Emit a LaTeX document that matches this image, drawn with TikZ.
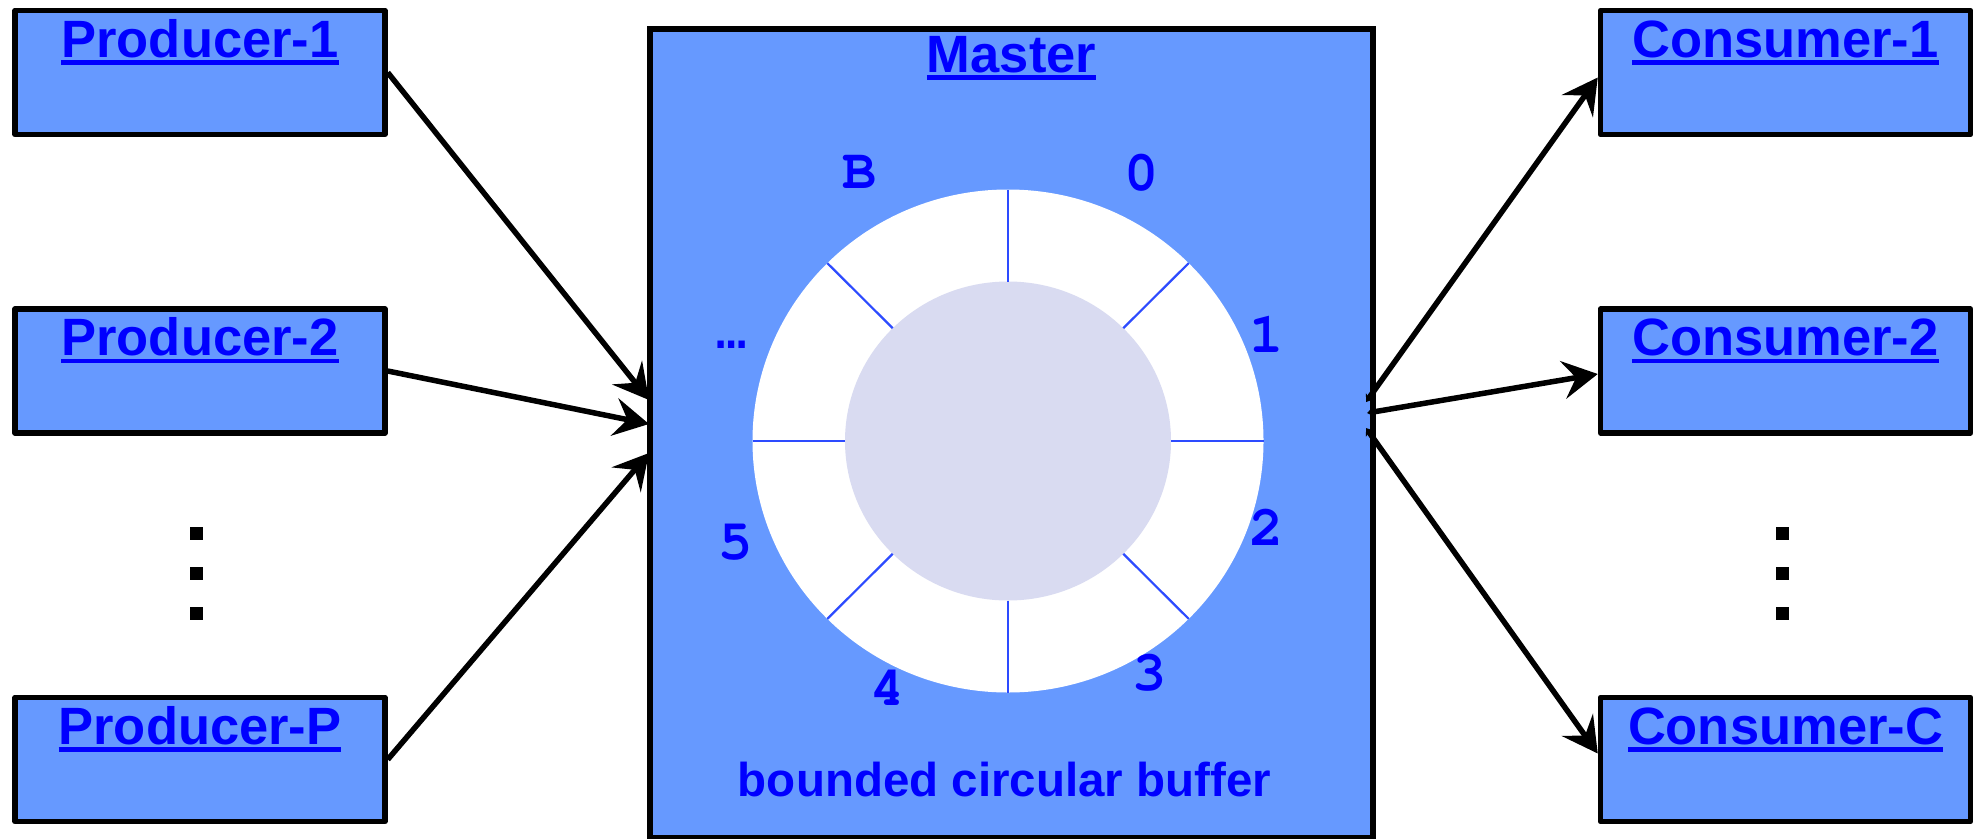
\documentclass[tikz,border=0pt]{standalone}
\usepackage{fontspec}
\usepackage[T1,TU]{fontenc}
\setmainfont{Liberation Sans}
\newfontfamily\slotfont{Liberation Mono}
\usetikzlibrary{arrows.meta,calc}

\definecolor{boxfill}{RGB}{102,153,255}
\definecolor{inkblue}{RGB}{0,0,255}
\definecolor{hubfill}{RGB}{217,219,241}
\definecolor{spokeblue}{RGB}{45,75,255}

% underline drawn as a thick rule under the text
\newcommand\ulined[1]{\setbox0=\hbox{#1}\rlap{\rule[-7.5pt]{\wd0}{4.5pt}}\box0}
% slot numbers in a bold Courier
\newcommand\courierbold{\fontencoding{T1}\fontfamily{pcr}\fontseries{b}\fontshape{n}\fontsize{57pt}{62pt}\selectfont}

\begin{document}
\begin{tikzpicture}[x=1pt,y=-1pt,
  unit/.style={draw=black, line width=5.5pt, line join=round, fill=boxfill,
    minimum width=370pt, minimum height=124pt, inner sep=0pt},
  master/.style={draw=black, line width=5.5pt, fill=boxfill,
    minimum width=723pt, minimum height=809pt, inner sep=0pt},
  title/.style={inner sep=0pt, text=inkblue,
    font=\fontsize{52.5pt}{60pt}\selectfont\bfseries},
  caption/.style={inner sep=0pt, text=inkblue,
    font=\fontsize{47.5pt}{54pt}\selectfont\bfseries},
  slot/.style={inner sep=0pt, text=inkblue, font=\courierbold},
  slotdots/.style={inner sep=0pt, text=inkblue,
    font=\fontsize{50pt}{56pt}\selectfont\slotfont\bfseries},
  spokeline/.style={draw=spokeblue, line width=2.2pt},
  dotmark/.style={fill=black, minimum size=13pt, inner sep=0pt},
  bigtip/.tip={Stealth[length=35pt,width=38pt,inset=13pt]},
  flow/.style={line width=5.5pt, -bigtip},
  outflow/.style={line width=5.5pt,
    {Stealth[length=7pt,width=10pt,inset=2pt]}-bigtip}
]
\useasboundingbox (0,0) rectangle (1980,838);

% master process with its circular buffer
\node[master] (m) at (1011.5,433.5) {};
\node[title, anchor=base] (mt) at ([yshift=-46pt]m.north) {\ulined{Master}};

\coordinate (ctr) at (1008,441);
\fill[white] (ctr) ellipse [x radius=255.5pt, y radius=251.5pt];
\fill[hubfill] (ctr) ellipse [x radius=163pt, y radius=159.5pt];
\foreach \a in {0,45,...,315}
  \draw[spokeline] ($(ctr)+({163*cos(\a)},{159.5*sin(\a)})$)
                -- ($(ctr)+({255.5*cos(\a)},{251.5*sin(\a)})$);

\node[slot] (sB) at (860,173) {B};
\node[slot] (s0) at (1142,173) {0};
\node[slot] (s1) at (1267,335) {1};
\node[slot] (s2) at (1267,528) {2};
\node[slot] (s3) at (1150,673) {3};
\node[slot] (s4) at (888,688) {4};
\node[slot] (s5) at (736,543) {5};
\node[slotdots, anchor=base] (sdots) at (731,348) {…};

\node[caption, anchor=base] (cap) at (1004.5,796) {bounded circular buffer};

% producers
\node[unit] (p1) at (200,72.5) {};
\node[unit] (p2) at (200,371) {};
\node[unit] (pp) at (200,759.5) {};
\node[title, anchor=base] (p1t) at ([yshift=-49.5pt]p1.north) {\ulined{Producer-1}};
\node[title, anchor=base] (p2t) at ([yshift=-49.5pt]p2.north) {\ulined{Producer-2}};
\node[title, anchor=base] (ppt) at ([yshift=-49.5pt]pp.north) {\ulined{Producer-P}};

% consumers
\node[unit] (c1) at (1785.5,72.5) {};
\node[unit] (c2) at (1785.5,371) {};
\node[unit] (cc) at (1785.5,759.5) {};
\node[title, anchor=base] (c1t) at ([yshift=-49.5pt]c1.north) {\ulined{Consumer-1}};
\node[title, anchor=base] (c2t) at ([yshift=-49.5pt]c2.north) {\ulined{Consumer-2}};
\node[title, anchor=base] (cct) at ([yshift=-49.5pt]cc.north) {\ulined{Consumer-C}};

% vertical ellipses between the second and last boxes
\node[dotmark] (pd1) at (196,533) {};
\node[dotmark] (pd2) at (196,573) {};
\node[dotmark] (pd3) at (196,613) {};
\node[dotmark] (cd1) at (1782,533) {};
\node[dotmark] (cd2) at (1782,573) {};
\node[dotmark] (cd3) at (1782,613) {};

% connection points on the master's edges
\coordinate (in1) at (649,400);
\coordinate (in2) at (649,424);
\coordinate (in3) at (649,453);
\coordinate (out1) at (1366,402);
\coordinate (out2) at (1367,413);
\coordinate (out3) at (1366,428);

\draw[flow] (p1.east) -- (in1);
\draw[flow] (p2.east) -- (in2);
\draw[flow] (pp.east) -- (in3);
\draw[outflow] (out1) -- ([yshift=-5pt]c1.west);
\draw[outflow] (out2) -- ([yshift=-3pt]c2.west);
\draw[outflow] (out3) -- ([yshift=6pt]cc.west);
\end{tikzpicture}
\end{document}
